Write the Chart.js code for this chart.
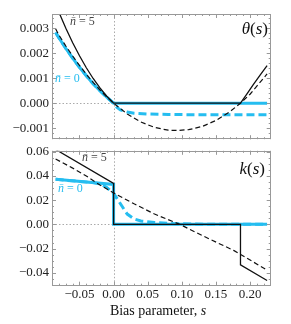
<!DOCTYPE html>
<html>
<head>
<meta charset="utf-8">
<script src="https://cdn.jsdelivr.net/npm/chart.js@4"></script>
<style>
  html, body { margin: 0; padding: 0; background: #fff; }
  #wrap { position: relative; width: 291px; height: 324px; }
  canvas { position: absolute; left: 0; }
</style>
</head>
<body>
<div id="wrap">
  <canvas id="thetaPanel" width="291" height="150" style="top:0"></canvas>
  <canvas id="kPanel" width="291" height="184" style="top:140px"></canvas>
</div>
<script>
// theta(s), nbar = 5, exact (black solid)
const sTheta5 = [-0.085, -0.08, -0.07, -0.06, -0.05, -0.04, -0.03, -0.02, -0.01, 0, 0.186, 0.195, 0.205, 0.215, 0.225];
const theta5 = [0.00397, 0.00363, 0.00300, 0.00242, 0.00190, 0.00142, 0.00099, 0.00061, 0.00028, 0, 0, 0.00035, 0.00075, 0.00113, 0.0015];
// theta(s), nbar = 5, approximation (black dashed)
const sTheta5Approx = [-0.085, -0.08, -0.07, -0.06, -0.05, -0.04, -0.03, -0.02, -0.01, 0, 0.02, 0.04, 0.06, 0.08, 0.093, 0.11, 0.13, 0.15, 0.17, 0.186, 0.20, 0.225];
const theta5Approx = [0.00298, 0.00272, 0.00229, 0.00189, 0.00151, 0.00116, 0.00083, 0.00053, 0.00025, 0, -0.00043, -0.00075, -0.00097, -0.00108, -0.00109, -0.00106, -0.00093, -0.00069, -0.00035, 0, 0.00036, 0.00117];
// theta(s), nbar = 0, exact (cyan solid)
const sTheta0 = [-0.085, -0.08, -0.07, -0.06, -0.05, -0.04, -0.03, -0.02, -0.01, 0, 0.225];
const theta0 = [0.00283, 0.00261, 0.00219, 0.00180, 0.00144, 0.00110, 0.00078, 0.00050, 0.00024, 0, 0];
// theta(s), nbar = 0, approximation (cyan dashed)
const sTheta0Approx = [-0.085, -0.08, -0.07, -0.06, -0.05, -0.04, -0.03, -0.02, -0.01, 0, 0.005, 0.01, 0.02, 0.03, 0.05, 0.08, 0.12, 0.225];
const theta0Approx = [0.00283, 0.00261, 0.00219, 0.00180, 0.00144, 0.00110, 0.00078, 0.00050, 0.00024, 0, -0.00017, -0.00027, -0.00035, -0.0004, -0.00043, -0.00045, -0.00046, -0.00046];

// k(s)
const sK5 = [-0.085, 0, 0, 0.186, 0.186, 0.225];
const k5 = [0.0619, 0.0339, 0, 0, -0.0335, -0.0464];
const sK5Approx = [-0.085, -0.06, -0.04, -0.02, 0, 0.03, 0.06, 0.097, 0.14, 0.176, 0.225];
const k5Approx = [0.054, 0.0465, 0.040, 0.0325, 0.026, 0.017, 0.0085, 0, -0.012, -0.0215, -0.0378];
const sK0 = [-0.085, 0, 0, 0.225];
const k0 = [0.0372, 0.033, 0, 0];
const sK0Approx = [-0.085, -0.05, -0.03, -0.02, -0.01, 0, 0.01, 0.02, 0.03, 0.04, 0.06, 0.09, 0.12, 0.225];
const k0Approx = [0.0372, 0.0355, 0.0345, 0.0335, 0.0305, 0.0256, 0.017, 0.0085, 0.0045, 0.0028, 0.0015, 0.0006, 0.0002, 0];

// ticks
const xTicks = [-0.05, 0, 0.05, 0.10, 0.15, 0.20];
const xTickLabels = ['−0.05', '0.00', '0.05', '0.10', '0.15', '0.20'];
const thetaTicks = [-0.001, 0, 0.001, 0.002, 0.003];
const thetaTickLabels = ['−0.001', '0.000', '0.001', '0.002', '0.003'];
const kTicks = [-0.04, -0.02, 0, 0.02, 0.04, 0.06];
const kTickLabels = ['−0.04', '−0.02', '0.00', '0.02', '0.04', '0.06'];

const CYAN = '#25bdf0';
const INK = '#111';
const SERIF = '"Liberation Serif", "Times New Roman", serif';

function pts(xs, ys) {
    return xs.map((x, i) => ({ x: x, y: ys[i] }));
}

function series(label, xs, ys, color, width, dash, order) {
    return {
        label: label,
        data: pts(xs, ys),
        borderColor: color,
        borderWidth: width,
        borderDash: dash,
        pointRadius: 0,
        fill: false,
        tension: 0,
        order: order
    };
}

// mixed upright / italic text in one line
function drawRuns(ctx, runs, x, y, align) {
    let w = 0;
    runs.forEach(r => { ctx.font = r[1]; w += ctx.measureText(r[0]).width; });
    let cx = align === 'right' ? x - w : align === 'center' ? x - w / 2 : x;
    ctx.textAlign = 'left';
    ctx.textBaseline = 'middle';
    runs.forEach(r => {
        ctx.font = r[1];
        ctx.fillStyle = r[2];
        ctx.fillText(r[0], cx, y);
        cx += ctx.measureText(r[0]).width;
    });
}

function tickMarks(ctx, scale, step, len, a, horizontal) {
    const n0 = Math.ceil(scale.min / step - 1e-9);
    const n1 = Math.floor(scale.max / step + 1e-9);
    for (let i = n0; i <= n1; i++) {
        const p = Math.round(scale.getPixelForValue(i * step)) + 0.5;
        if (horizontal) {
            ctx.moveTo(p, a.bottom); ctx.lineTo(p, a.bottom - len);
            ctx.moveTo(p, a.top); ctx.lineTo(p, a.top + len);
        } else {
            ctx.moveTo(a.left, p); ctx.lineTo(a.left + len, p);
            ctx.moveTo(a.right, p); ctx.lineTo(a.right - len, p);
        }
    }
}

const framePlugin = {
    id: 'frame',
    beforeDatasetsDraw(chart) {
        const { ctx, chartArea: a, scales: { x, y } } = chart;
        const x0 = Math.round(x.getPixelForValue(0)) + 0.5;
        const y0 = Math.round(y.getPixelForValue(0)) + 0.5;
        ctx.save();
        ctx.strokeStyle = '#aaa';
        ctx.lineWidth = 1;
        ctx.setLineDash([1.5, 2]);
        ctx.beginPath();
        ctx.moveTo(x0, a.top); ctx.lineTo(x0, a.bottom);
        ctx.moveTo(a.left, y0); ctx.lineTo(a.right, y0);
        ctx.stroke();
        ctx.restore();
    },
    afterDraw(chart, args, opts) {
        const { ctx, chartArea: a, scales: { x, y } } = chart;
        ctx.save();
        ctx.strokeStyle = '#999';
        ctx.lineWidth = 1;
        ctx.strokeRect(Math.round(a.left) + 0.5, Math.round(a.top) + 0.5,
            Math.round(a.right - a.left) - 1, Math.round(a.bottom - a.top) - 1);
        ctx.beginPath();
        tickMarks(ctx, x, 0.05, 4, a, true);
        tickMarks(ctx, x, 0.01, 2, a, true);
        tickMarks(ctx, y, opts.yMajor, 4, a, false);
        tickMarks(ctx, y, opts.yMinor, 2, a, false);
        ctx.stroke();
        (opts.notes || []).forEach(n => drawRuns(ctx, n.runs, n.x, n.y, n.align));
        ctx.restore();
    }
};

function yAxis(min, max, ticks, labels) {
    return {
        type: 'linear', min: min, max: max,
        afterBuildTicks: s => { s.ticks = ticks.map(v => ({ value: v })); },
        afterFit: s => { s.width = 52; },
        grid: { display: false, drawTicks: false },
        border: { display: false },
        ticks: {
            padding: 3, color: '#222',
            font: { family: SERIF, size: 13 },
            callback: v => labels[ticks.indexOf(v)]
        }
    };
}

function nbar(value, color, x, y) {
    return { x: x, y: y, align: 'left', runs: [['n\u0304', 'italic 12px ' + SERIF, color], [' = ' + value, '12px ' + SERIF, color]] };
}

function fnLabel(f, x, y) {
    return { x: x, y: y, align: 'right', runs: [
        [f, 'italic 17px ' + SERIF, INK], ['(', '17px ' + SERIF, INK],
        ['s', 'italic 17px ' + SERIF, INK], [')', '17px ' + SERIF, INK]] };
}

const xRange = { min: -0.0903, max: 0.2303 };

new Chart(document.getElementById('thetaPanel'), {
    type: 'line',
    data: {
        datasets: [
            series('theta nbar=5', sTheta5, theta5, INK, 1.3, [], 0),
            series('theta nbar=5 approx', sTheta5Approx, theta5Approx, INK, 1.2, [5, 3], 1),
            series('theta nbar=0 approx', sTheta0Approx, theta0Approx, CYAN, 3, [8, 4], 2),
            series('theta nbar=0', sTheta0, theta0, CYAN, 3, [], 3)
        ]
    },
    options: {
        responsive: false,
        animation: false,
        layout: { padding: { top: 14, bottom: 3.3, left: 0, right: 20.3 } },
        plugins: {
            legend: { display: false },
            tooltip: { enabled: false },
            frame: {
                yMajor: 0.001, yMinor: 0.0002,
                notes: [fnLabel('θ', 268, 30), nbar(5, '#444', 70, 21.5), nbar(0, CYAN, 55, 79)]
            }
        },
        scales: {
            x: { type: 'linear', min: xRange.min, max: xRange.max, display: false },
            y: yAxis(-0.00144, 0.00357, thetaTicks, thetaTickLabels)
        }
    },
    plugins: [framePlugin]
});

new Chart(document.getElementById('kPanel'), {
    type: 'line',
    data: {
        datasets: [
            series('k nbar=5', sK5, k5, INK, 1.3, [], 0),
            series('k nbar=5 approx', sK5Approx, k5Approx, INK, 1.2, [5, 3], 1),
            series('k nbar=0 approx', sK0Approx, k0Approx, CYAN, 3, [8, 4], 2),
            series('k nbar=0', sK0, k0, CYAN, 3, [], 3)
        ]
    },
    options: {
        responsive: false,
        animation: false,
        layout: { padding: { top: 10.7, bottom: 0, left: 0, right: 20.3 } },
        plugins: {
            legend: { display: false },
            tooltip: { enabled: false },
            frame: {
                yMajor: 0.02, yMinor: 0.005,
                notes: [
                    fnLabel('k', 265, 30), nbar(5, '#444', 82, 18), nbar(0, CYAN, 58, 48.5),
                    { x: 158, y: 171, align: 'center', runs: [['Bias parameter, ', '14px ' + SERIF, INK], ['s', 'italic 14px ' + SERIF, INK]] }
                ]
            }
        },
        scales: {
            x: {
                type: 'linear', min: xRange.min, max: xRange.max,
                afterBuildTicks: s => { s.ticks = xTicks.map(v => ({ value: v })); },
                afterFit: s => { s.height = 38.3; },
                grid: { display: false, drawTicks: false },
                border: { display: false },
                ticks: {
                    padding: 1, color: '#222', maxRotation: 0, autoSkip: false,
                    font: { family: SERIF, size: 13 },
                    callback: v => xTickLabels[xTicks.indexOf(v)]
                }
            },
            y: yAxis(-0.0507, 0.0608, kTicks, kTickLabels)
        }
    },
    plugins: [framePlugin]
});
</script>
</body>
</html>
